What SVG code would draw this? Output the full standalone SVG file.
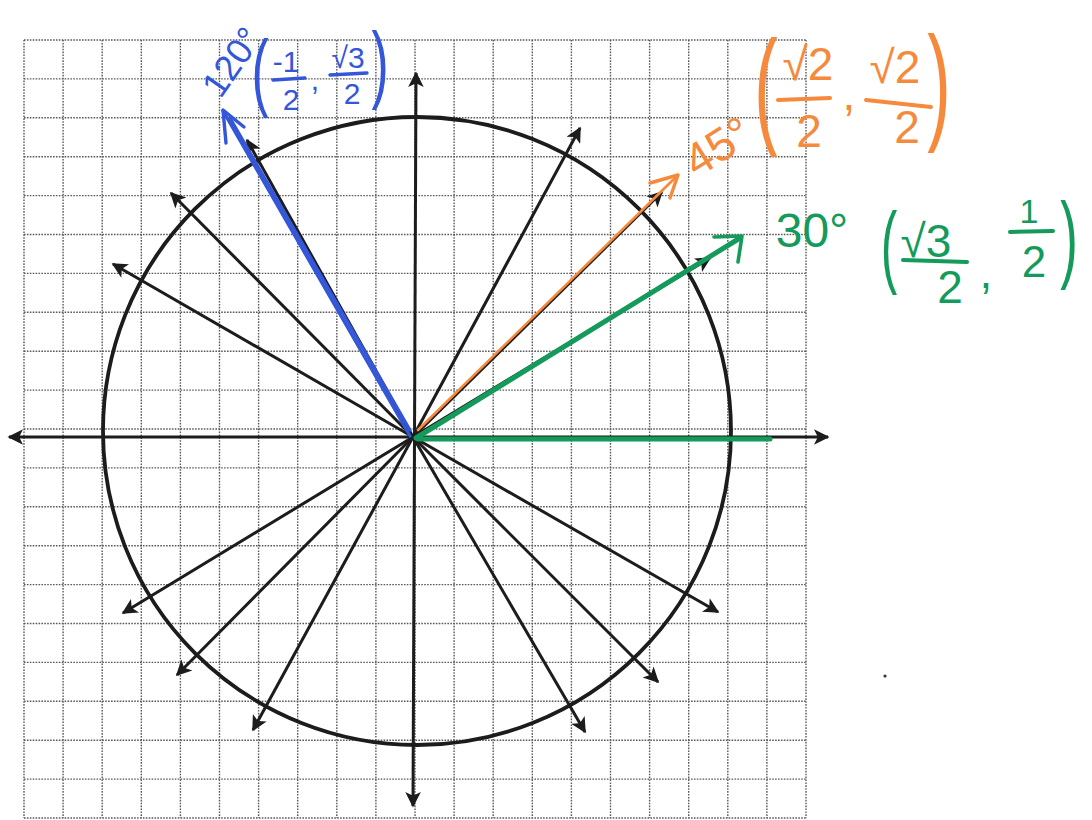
<svg xmlns="http://www.w3.org/2000/svg" width="1092" height="820" viewBox="0 0 1092 820">
<defs>
<style>
.grid{fill:none;stroke:#5a5a5a;stroke-width:1.4;stroke-dasharray:1.6 1.3}
.ax{stroke:#1c1c1c;stroke-width:3;fill:none;marker-end:url(#ah)}
.axis2{stroke:#1c1c1c;stroke-width:3;fill:none;marker-end:url(#ah);marker-start:url(#ah)}
.circ{fill:none;stroke:#1c1c1c;stroke-width:3.8}
.t{font-family:"Liberation Sans",Arial,sans-serif;text-anchor:middle}
.blue{fill:#3456d8}
.orange{fill:#f68a3c}
.green{fill:#149a5b}
.bs{stroke:#3456d8;fill:none;stroke-linecap:round;stroke-linejoin:round}
.os{stroke:#f68a3c;fill:none;stroke-linecap:round;stroke-linejoin:round}
.gs{stroke:#149a5b;fill:none;stroke-linecap:round;stroke-linejoin:round}
</style>
<marker id="ah" viewBox="0 0 10 10" refX="9" refY="5" markerWidth="6.5" markerHeight="5.2" orient="auto-start-reverse" markerUnits="strokeWidth">
<path d="M0,0 L10,5 L0,10 L2.5,5 z" fill="#1c1c1c"/>
</marker>
</defs>
<rect width="1092" height="820" fill="#ffffff"/>
<g id="grid">
<path class="grid" d="M24,40V818M63.1,40V818M102.2,40V818M141.3,40V818M180.4,40V818M219.5,40V818M258.6,40V818M297.7,40V818M336.8,40V818M375.9,40V818M415,40V818M454.1,40V818M493.2,40V818M532.3,40V818M571.4,40V818M610.5,40V818M649.6,40V818M688.7,40V818M727.8,40V818M766.9,40V818M806,40V818"/>
<path class="grid" d="M24,40H806M24,78.9H806M24,117.8H806M24,156.7H806M24,195.6H806M24,234.5H806M24,273.4H806M24,312.3H806M24,351.2H806M24,390.1H806M24,429H806M24,467.9H806M24,506.8H806M24,545.7H806M24,584.6H806M24,623.5H806M24,662.4H806M24,701.3H806M24,740.2H806M24,779.1H806M24,818H806"/>
</g>
<g id="circle">
<circle class="circ" cx="417" cy="431" r="314"/>
</g>
<g id="connectors">
<line class="axis2" x1="9" y1="437" x2="828" y2="437"/>
<line class="axis2" x1="416" y1="73" x2="413" y2="806"/>
<line class="ax" x1="413" y1="437" x2="710" y2="258"/>
<line class="ax" x1="413" y1="437" x2="662" y2="192"/>
<line class="ax" x1="413" y1="437" x2="580" y2="128"/>
<line class="ax" x1="413" y1="437" x2="247" y2="140"/>
<line class="ax" x1="413" y1="437" x2="171" y2="193"/>
<line class="ax" x1="413" y1="437" x2="113" y2="264"/>
<line class="ax" x1="413" y1="437" x2="123" y2="613"/>
<line class="ax" x1="413" y1="437" x2="177" y2="675"/>
<line class="ax" x1="413" y1="437" x2="253" y2="730"/>
<line class="ax" x1="413" y1="437" x2="585" y2="732"/>
<line class="ax" x1="413" y1="437" x2="658" y2="682"/>
<line class="ax" x1="413" y1="437" x2="718" y2="612"/>
<!-- blue 120 vector -->
<line class="bs" x1="410" y1="436" x2="223" y2="111" stroke-width="3.2"/>
<line class="bs" x1="410" y1="430" x2="230" y2="118" stroke-width="3.2"/>
<path class="bs" d="M226,143 L223,110 L244,127" stroke-width="3.4"/>
<!-- orange 45 vector -->
<line class="os" x1="418" y1="430" x2="677" y2="176" stroke-width="2.6"/>
<path class="os" d="M650,183 L678,175 L670,198" stroke-width="3.4"/>
<!-- green 30 vector -->
<line class="gs" x1="416" y1="438" x2="740" y2="238" stroke-width="5"/>
<path class="gs" d="M714,237 L742,236 L738,262" stroke-width="3.6"/>
<line class="gs" x1="418" y1="439" x2="770" y2="439" stroke-width="5"/>
</g>
<g id="label-120">
<text class="t blue" font-size="36" transform="translate(232,62) rotate(-55)" x="0" y="12">120°</text>
<text class="t blue" font-size="86" transform="translate(260,100) scale(0.6,1)">(</text>
<text class="t blue" font-size="30" x="286" y="72">-1</text>
<line class="bs" x1="273" y1="80" x2="305" y2="78" stroke-width="3.4"/>
<text class="t blue" font-size="30" x="291" y="110">2</text>
<text class="t blue" font-size="30" x="315" y="90">,</text>
<text class="t blue" font-size="30" x="348" y="68">√3</text>
<line class="bs" x1="330" y1="75" x2="367" y2="73" stroke-width="3.4"/>
<text class="t blue" font-size="30" x="352" y="104">2</text>
<text class="t blue" font-size="86" transform="translate(380,92) scale(0.6,1)">)</text>
</g>
<g id="label-45">
<text class="t orange" font-size="46" transform="translate(726,160) rotate(-32)">45°</text>
<text class="t orange" font-size="128" transform="translate(766,130) scale(0.55,1)">(</text>
<text class="t orange" font-size="46" x="808" y="80">√2</text>
<line class="os" x1="778" y1="100" x2="830" y2="98" stroke-width="4"/>
<text class="t orange" font-size="46" x="809" y="147">2</text>
<text class="t orange" font-size="46" x="849" y="110">,</text>
<text class="t orange" font-size="46" x="895" y="83">√2</text>
<line class="os" x1="866" y1="100" x2="931" y2="107" stroke-width="4"/>
<text class="t orange" font-size="46" x="907" y="143">2</text>
<text class="t orange" font-size="128" transform="translate(939,126) scale(0.55,1)">)</text>
</g>
<g id="label-30">
<text class="t green" font-size="48" x="812" y="247">30°</text>
<text class="t green" font-size="90" transform="translate(889,276) scale(0.55,1)">(</text>
<text class="t green" font-size="46" x="926" y="257">√3</text>
<line class="gs" x1="903" y1="260" x2="967" y2="262" stroke-width="4"/>
<text class="t green" font-size="46" x="950" y="303">2</text>
<text class="t green" font-size="46" x="986" y="288">,</text>
<text class="t green" font-size="34" x="1029" y="223">1</text>
<line class="gs" x1="1010" y1="232" x2="1053" y2="231" stroke-width="4"/>
<text class="t green" font-size="44" x="1034" y="277">2</text>
<text class="t green" font-size="96" transform="translate(1069,270) scale(0.55,1)">)</text>
</g>
<circle cx="885" cy="676" r="1.6" fill="#333"/>
</svg>
